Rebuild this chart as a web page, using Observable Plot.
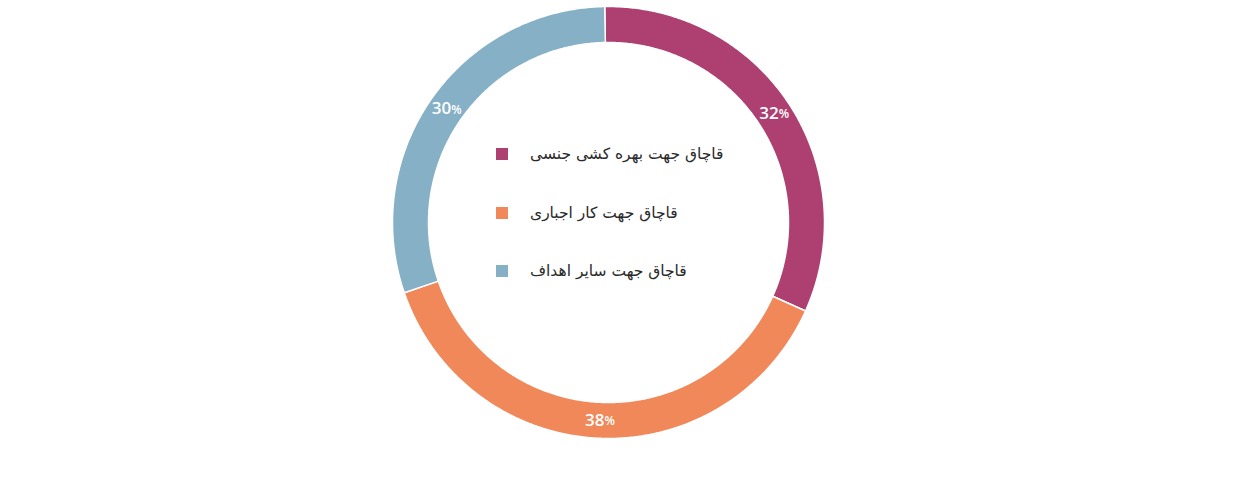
<!DOCTYPE html>
<html><head><meta charset="utf-8">
<script src="https://cdn.jsdelivr.net/npm/d3@7"></script>
<script src="https://cdn.jsdelivr.net/npm/@observablehq/plot@0.6"></script>
<style>
body{margin:0;background:#fff}
#wrap{position:relative;width:1259px;height:483px}
.row{position:absolute;left:496px;height:20px;display:flex;align-items:center;font-family:"DejaVu Sans",sans-serif;font-size:15.5px;color:#2a2a2a}
.sw{width:12px;height:12px;margin-right:22px;flex:none}
</style>
</head><body>
<div id="wrap"></div>
<script>
const categories = ["قاچاق جهت بهره کشی جنسی", "قاچاق جهت کار اجباری", "قاچاق جهت سایر اهداف"];
const shares = [32, 38, 30];
const colors = ["#ad4071", "#f0885a", "#85b0c6"];

const outerR = 1, innerR = 180 / 216, labelR = 198 / 216;
const startAngle = -1 * Math.PI / 180;
const total = d3.sum(shares);
const points = [];
const labels = [];
let cum = 0;
categories.forEach((cat, i) => {
  const a0 = startAngle + cum / total * 2 * Math.PI;
  cum += shares[i];
  const a1 = startAngle + cum / total * 2 * Math.PI;
  const n = Math.max(2, Math.ceil((a1 - a0) / (Math.PI / 360)));
  for (let k = 0; k <= n; k++) {
    const a = a0 + (a1 - a0) * k / n;
    points.push({cat, x: outerR * Math.sin(a), y: outerR * Math.cos(a)});
  }
  for (let k = n; k >= 0; k--) {
    const a = a0 + (a1 - a0) * k / n;
    points.push({cat, x: innerR * Math.sin(a), y: innerR * Math.cos(a)});
  }
  const am = (a0 + a1) / 2;
  labels.push({cat, value: shares[i], x: labelR * Math.sin(am), y: labelR * Math.cos(am)});
});

const chart = Plot.plot({
  width: 1259,
  height: 483,
  margin: 0,
  x: {domain: [-1, 1], range: [392, 824], axis: null},
  y: {domain: [-1, 1], range: [438, 6], axis: null},
  color: {domain: categories, range: colors},
  style: {background: "#fff"},
  marks: [
    Plot.line(points, {x: "x", y: "y", z: "cat", fill: "cat", stroke: "white", strokeWidth: 1.5, curve: "linear-closed"}),
    Plot.text(labels, {x: "x", y: "y", text: d => String(d.value), textAnchor: "end", dx: 5, fill: "white", fontSize: 17, fontWeight: 600, fontFamily: "Open Sans"}),
    Plot.text(labels, {x: "x", y: "y", text: d => "%", textAnchor: "start", dx: 5, dy: 1, fill: "white", fontSize: 12, fontWeight: 600, fontFamily: "Open Sans"})
  ]
});
const wrap = document.getElementById("wrap");
wrap.appendChild(chart);
const tops = [144, 203, 261];
categories.forEach((cat, i) => {
  const row = document.createElement("div");
  row.className = "row";
  row.style.top = tops[i] + "px";
  const sw = document.createElement("span");
  sw.className = "sw";
  sw.style.background = colors[i];
  const t = document.createElement("span");
  t.textContent = cat;
  t.dir = "rtl";
  row.appendChild(sw);
  row.appendChild(t);
  wrap.appendChild(row);
});
</script>
</body></html>
